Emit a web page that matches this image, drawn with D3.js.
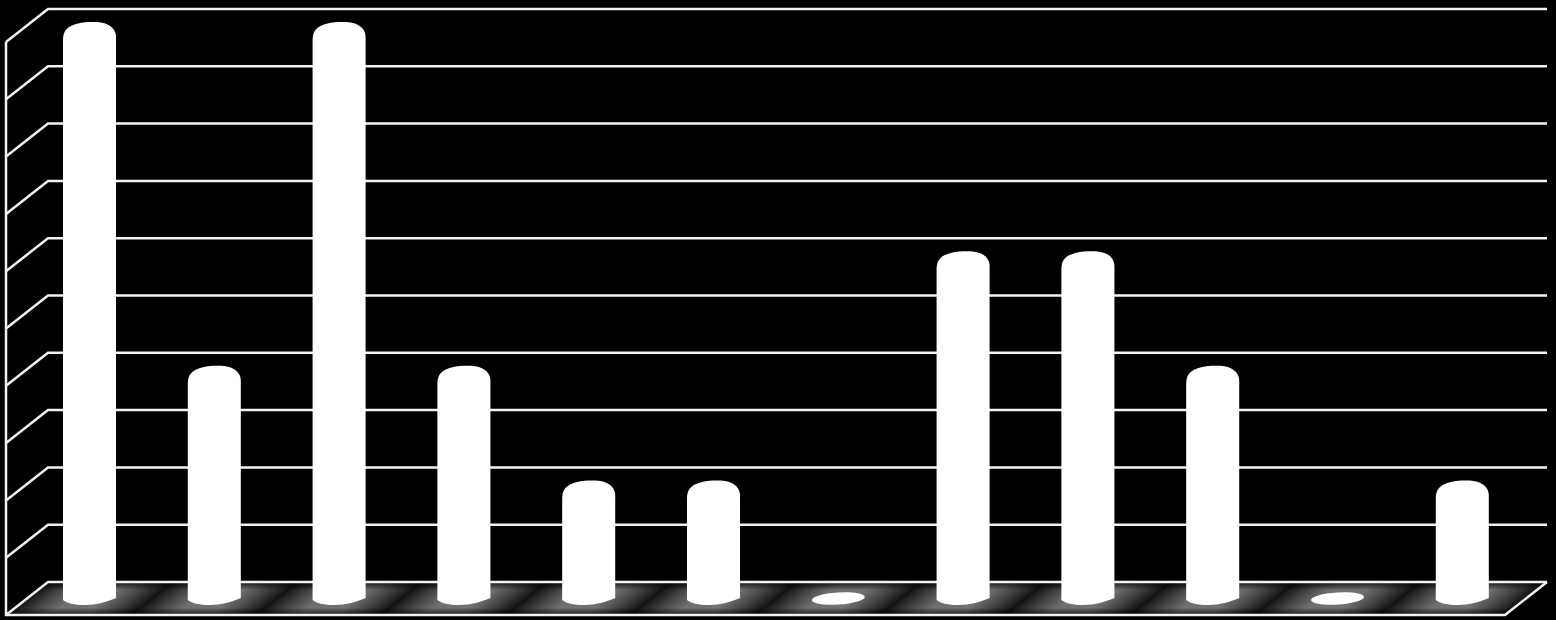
<!DOCTYPE html>
<html>
<head>
<meta charset="utf-8">
<script src="https://cdn.jsdelivr.net/npm/d3@7"></script>
<style>
  html, body { margin: 0; background: #000; overflow: hidden; }
  svg { display: block; }
</style>
</head>
<body>
<div id="chart"></div>
<script>
const categories = ["1", "2", "3", "4", "5", "6", "7", "8", "9", "10", "11", "12"]
const values = [5, 2, 5, 2, 1, 1, 0, 3, 3, 2, 0, 1]
const gridTicks = [0, 0.5, 1, 1.5, 2, 2.5, 3, 3.5, 4, 4.5, 5]

const width = 1556, height = 620
const depthX = 42, depthY = 33
const backLeft = 48, backRight = 1547

const y = d3.scaleLinear().domain([0, 5]).range([582, 9])
const x = d3.scaleBand().domain(categories).range([27.1, 1524.7])
    .paddingInner(0.575).paddingOuter(0.2875)

const svg = d3.select("#chart")
    .append("svg")
    .attr("width", width)
    .attr("height", height)
    .attr("viewBox", [0, 0, width, height])

svg.append("rect").attr("width", width).attr("height", height).attr("fill", "#000")

const defs = svg.append("defs")

const band = defs.append("linearGradient").attr("id", "floor-band")
band.selectAll("stop")
    .data([[0, "#141414"], [0.18, "#454545"], [0.36, "#707070"], [0.64, "#707070"], [0.82, "#454545"], [1, "#141414"]])
    .join("stop")
    .attr("offset", d => d[0])
    .attr("stop-color", d => d[1])

const fade = defs.append("linearGradient").attr("id", "floor-fade")
    .attr("x1", 0).attr("x2", 0).attr("y1", 0).attr("y2", 1)
fade.selectAll("stop")
    .data([[0, 0.8], [0.25, 0], [0.78, 0], [1, 0.75]])
    .join("stop")
    .attr("offset", d => d[0])
    .attr("stop-color", "#000")
    .attr("stop-opacity", d => d[1])

const y0 = y(0), frontY = y0 + depthY
const floorPoints = [[backLeft, y0], [backRight, y0], [backRight - depthX, frontY], [backLeft - depthX, frontY]]

defs.append("clipPath").attr("id", "floor-clip")
    .append("polygon")
    .attr("points", floorPoints.join(" "))

// floor, one slanted band per category
const floor = svg.append("g").attr("clip-path", "url(#floor-clip)")
const midY = y0 + depthY / 2
const skew = -Math.atan(depthX / depthY) * 180 / Math.PI

floor.selectAll("rect.band")
    .data(categories)
    .join("rect")
    .attr("class", "band")
    .attr("x", d => x(d) + x.bandwidth() / 2 - x.step() / 2)
    .attr("y", y0)
    .attr("width", x.step())
    .attr("height", depthY)
    .attr("fill", "url(#floor-band)")
    .attr("transform", `translate(0,${midY}) skewX(${skew}) translate(0,${-midY})`)

floor.append("rect")
    .attr("x", 0)
    .attr("y", y0)
    .attr("width", width)
    .attr("height", depthY)
    .attr("fill", "url(#floor-fade)")

// back wall lines and their diagonals on the side wall
const grid = svg.append("g")
    .attr("fill", "none")
    .attr("stroke", "#f2f2f2")
    .attr("stroke-width", 2.5)

grid.selectAll("path.tick")
    .data(gridTicks)
    .join("path")
    .attr("class", "tick")
    .attr("stroke-linejoin", "miter")
    .attr("d", d => `M${backLeft - depthX},${y(d) + depthY}L${backLeft},${y(d)}L${backRight},${y(d)}`)

grid.append("path")
    .attr("d", `M${backLeft - depthX},${y(5) + depthY}V${frontY}H${backRight - depthX}L${backRight},${y0}`)

// bars
const baseOffset = 14, rx = x.bandwidth() / 2

function barPath(d, i) {
    const l = x(categories[i]), w = x.bandwidth(), r = l + w
    const t = y(d) + 13
    const b = y(0) + baseOffset
    return `M${l},${t + 18}`
        + `C${l},${t + 8} ${l + 5},${t + 4} ${l + 15},${t + 1.5}`
        + `C${l + 22},${t} ${l + 31},${t - 0.3} ${l + 38},${t + 0.5}`
        + `C${l + 48},${t + 2} ${r},${t + 8} ${r},${t + 15}`
        + `L${r},${b + 2}`
        + `C${r - 10},${b + 6} ${l + 34},${b + 9} ${l + 22},${b + 9}`
        + `C${l + 12},${b + 9} ${l + 3},${b + 7} ${l},${b + 4}Z`
}

const nonZero = values.map((d, i) => ({d, i}))

svg.append("g")
    .selectAll("path")
    .data(nonZero.filter(e => e.d > 0))
    .join("path")
    .attr("fill", "#fff")
    .attr("d", e => barPath(e.d, e.i))

// empty categories only show the base ellipse
svg.append("g")
    .selectAll("ellipse")
    .data(nonZero.filter(e => e.d === 0))
    .join("ellipse")
    .attr("fill", "#fff")
    .attr("cx", e => x(categories[e.i]) + rx)
    .attr("cy", y(0) + 16.5)
    .attr("rx", rx)
    .attr("ry", 6)
    .attr("transform", e => `rotate(-3.5 ${x(categories[e.i]) + rx} ${y(0) + 16.5})`)
</script>
</body>
</html>
